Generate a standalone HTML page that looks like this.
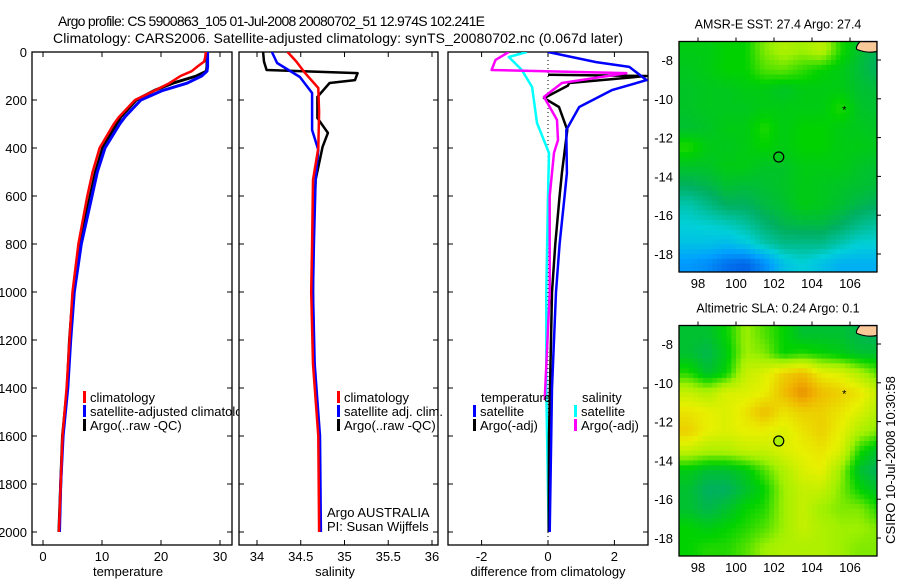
<!DOCTYPE html>
<html><head><meta charset="utf-8"><style>
body{margin:0;background:#fff}
svg{display:block;font-family:"Liberation Sans",sans-serif}
</style></head><body>
<svg id="c" width="900" height="580" viewBox="0 0 900 580">
<text x="58" y="26" font-size="14" textLength="427" lengthAdjust="spacing">Argo profile: CS 5900863_105 01-Jul-2008 20080702_51 12.974S 102.241E</text>
<text x="53" y="43" font-size="14" textLength="570" lengthAdjust="spacing">Climatology: CARS2006. Satellite-adjusted climatology: synTS_20080702.nc (0.067d later)</text>
<g id="g"></g>
</svg>
<script>
// ---- temperature panel data ----
const tDepth=[0,20,40,60,80,100,130,160,200,270,300,400,500,600,800,1000,1200,1400,1600,1800,2000];
const tClim=[27.6,27.5,27.3,26.2,25.2,23.3,21.4,19.0,15.6,12.9,12.0,9.6,8.4,7.5,6.0,5.0,4.5,4.0,3.3,3.0,2.7];
const tArgo=[27.8,27.8,27.8,27.8,27.7,26.0,22.0,18.9,15.8,13.2,12.5,10.1,8.9,8.0,6.3,5.1,4.5,4.1,3.3,3.0,2.7];
const tSat=[27.9,27.9,27.9,27.9,27.8,26.9,24.4,20.3,16.6,13.9,13.0,10.5,9.2,8.3,6.5,5.3,4.7,4.2,3.4,3.0,2.8];
// ---- salinity panel data ----
const sClimD=[0,40,88,150,250,400,533,800,1000,1300,1600,2000];
const sClim=[34.35,34.45,34.55,34.70,34.71,34.70,34.64,34.63,34.62,34.64,34.70,34.71];
const sArgoD=[0,40,75,88,117,129,187,275,337,395,533,800,1000,1300,1600,2000];
const sArgo=[34.07,34.08,34.11,35.15,35.12,34.83,34.69,34.69,34.81,34.75,34.67,34.64,34.64,34.65,34.71,34.72];
const sSatD=[0,46,104,171,325,408,533,800,1000,1300,1600,2000];
const sSat=[34.17,34.23,34.49,34.63,34.63,34.70,34.67,34.65,34.64,34.66,34.72,34.73];
// ---- difference panel data ----
const dTSatD=[0,42,62,117,158,229,325,504,600,800,1000,1400,2000];
const dTSat=[0,1.45,2.45,2.97,1.94,0.94,0.55,0.57,0.5,0.35,0.24,0.12,0.05];
const dTArgoD=[95,100,129,140,192,229,325,504,600,800,1000,1600,2000];
const dTArgo=[0,2.97,0.64,0.6,-0.12,0.33,0.58,0.42,0.35,0.22,0.12,0.03,0.02];
const dSArgoD=[0,33,75,88,129,187,283,367,420,600,1000,1450];
const dSArgo=[-1.18,-1.58,-1.7,2.36,0.42,-0.12,0.27,0.3,0.18,0.05,0.05,-0.1];
const dSSatD=[0,21,75,146,296,421,600,1000,1400,2000];
const dSSat=[-0.64,-1.18,-0.79,-0.48,-0.33,0.03,0.0,-0.05,-0.05,0.02];
// ---- ticks ----
const depthTicks=[0,200,400,600,800,1000,1200,1400,1600,1800,2000];
const tTicks=[0,10,20,30];
const sTicks=[34,34.5,35,35.5,36];
const dTicks=[-2,0,2];
const latTicks=[-8,-10,-12,-14,-16,-18];
const lonTicks=[98,100,102,104,106];
// ---- map grids (normalised colour value 0..1), rows lat -7.5..-18.5, cols lon 97.5..107.5 ----
const sstGrid=[
[0.58,0.58,0.6,0.6,0.68,0.72,0.7,0.74,0.62,0.55,0.5],
[0.57,0.58,0.6,0.6,0.65,0.66,0.63,0.6,0.58,0.54,0.5],
[0.56,0.57,0.57,0.58,0.58,0.56,0.58,0.58,0.58,0.55,0.54],
[0.56,0.57,0.57,0.57,0.58,0.58,0.58,0.58,0.62,0.56,0.55],
[0.55,0.56,0.58,0.58,0.62,0.58,0.6,0.6,0.58,0.57,0.56],
[0.62,0.58,0.57,0.58,0.6,0.58,0.6,0.6,0.58,0.58,0.57],
[0.56,0.56,0.58,0.58,0.56,0.56,0.58,0.58,0.58,0.56,0.55],
[0.5,0.52,0.55,0.54,0.55,0.56,0.58,0.57,0.56,0.55,0.54],
[0.4,0.45,0.5,0.5,0.53,0.55,0.58,0.57,0.55,0.52,0.5],
[0.35,0.36,0.38,0.42,0.48,0.52,0.53,0.53,0.5,0.45,0.42],
[0.3,0.3,0.28,0.32,0.4,0.45,0.45,0.45,0.4,0.35,0.35],
[0.18,0.15,0.08,0.05,0.15,0.3,0.35,0.3,0.25,0.25,0.25]];
const slaGrid=[
[0.55,0.55,0.6,0.7,0.65,0.6,0.55,0.55,0.55,0.52,0.5],
[0.55,0.52,0.58,0.7,0.68,0.6,0.62,0.6,0.58,0.55,0.55],
[0.62,0.55,0.6,0.75,0.78,0.85,0.88,0.8,0.78,0.72,0.65],
[0.75,0.72,0.78,0.78,0.8,0.88,0.95,0.88,0.85,0.82,0.75],
[0.82,0.8,0.78,0.82,0.88,0.82,0.85,0.85,0.82,0.78,0.72],
[0.85,0.8,0.78,0.8,0.8,0.78,0.82,0.85,0.8,0.72,0.68],
[0.75,0.72,0.72,0.75,0.75,0.78,0.8,0.82,0.78,0.62,0.55],
[0.58,0.55,0.55,0.58,0.65,0.72,0.78,0.8,0.7,0.55,0.5],
[0.55,0.5,0.5,0.55,0.6,0.7,0.75,0.75,0.68,0.6,0.55],
[0.55,0.52,0.55,0.6,0.62,0.7,0.75,0.7,0.68,0.68,0.62],
[0.6,0.58,0.6,0.62,0.65,0.7,0.75,0.72,0.7,0.7,0.68],
[0.6,0.62,0.62,0.65,0.7,0.72,0.72,0.72,0.7,0.68,0.68]];
const gridLon0=97.5, gridLat0=-7.5;

const NS="http://www.w3.org/2000/svg";
const G=document.getElementById('g');
function mk(tag,attrs,parent){const e=document.createElementNS(NS,tag);for(const k in attrs)e.setAttribute(k,attrs[k]);(parent||G).appendChild(e);return e;}
function txt(x,y,s,anchor,size,parent){const e=mk('text',{x:x,y:y,'text-anchor':anchor||'middle','font-size':size||13},parent);e.textContent=s;return e;}

const Y0=52, YS=0.24;
const yD=d=>Y0+d*YS;
const panels=[
 {name:'temperature',x0:32,x1:232,fx:v=>43+(v-0)*5.9,ticks:tTicks,label:'temperature',lx:128},
 {name:'salinity',x0:239,x1:438,fx:v=>257+(v-34)*87.5,ticks:sTicks,label:'salinity',lx:335},
 {name:'difference',x0:448,x1:648,fx:v=>548+v*33.2,ticks:dTicks,label:'difference from climatology',lx:548}
];
const TOP=52,BOT=545;
panels.forEach((p,i)=>{
  const g=mk('g',{});
  
  
  const r=mk('rect',{x:p.x0,y:TOP,width:p.x1-p.x0,height:BOT-TOP,fill:'none',stroke:'#000','stroke-width':1.3},g);
  
  
  depthTicks.forEach(d=>{const y=yD(d);
    mk('line',{x1:p.x0,x2:p.x0+5,y1:y,y2:y,stroke:'#000'},g);
    mk('line',{x1:p.x1,x2:p.x1-5,y1:y,y2:y,stroke:'#000'},g);
    if(i===0){const t=txt(27,y+5,String(d),'end',13,g);
      
      }
  });
  p.ticks.forEach(v=>{const x=p.fx(v);
    mk('line',{x1:x,x2:x,y1:BOT,y2:BOT-5,stroke:'#000'},g);
    mk('line',{x1:x,x2:x,y1:TOP,y2:TOP+5,stroke:'#000'},g);
    const t=txt(x,561,String(v),'middle',13,g);
    
    
  });
  const l=txt(p.lx,576,p.label,'middle',13,g);
  
  
});
const clip=mk('clipPath',{id:'pc'});
panels.forEach(p=>mk('rect',{x:p.x0,y:TOP,width:p.x1-p.x0,height:BOT-TOP},clip));
const lc=mk('clipPath',{id:'lc'});
mk('rect',{x:0,y:0,width:239,height:580},lc);
function line(p,depths,vals,color,w,name){
  const pts=depths.map((d,k)=>p.fx(vals[k]).toFixed(1)+','+yD(d).toFixed(1)).join(' ');
  const e=mk('polyline',{points:pts,fill:'none',stroke:color,'stroke-width':w,'clip-path':'url(#pc)','stroke-linejoin':'round'});
  
  
}
const P=panels;
const z=mk('line',{x1:P[2].fx(0),x2:P[2].fx(0),y1:TOP,y2:BOT,stroke:'#000','stroke-dasharray':'1,3'});


line(P[0],tDepth,tArgo,'#000',3,'temp-argo-line');
line(P[0],tDepth,tSat,'#0000ff',3,'temp-satellite-line');
line(P[0],tDepth,tClim,'#ff0000',2.5,'temp-climatology-line');
line(P[1],sArgoD,sArgo,'#000',2.5,'sal-argo-line');
line(P[1],sSatD,sSat,'#0000ff',2.5,'sal-satellite-line');
line(P[1],sClimD,sClim,'#ff0000',2.5,'sal-climatology-line');
line(P[2],dSSatD,dSSat,'#00ffff',2.5,'diff-sal-satellite-line');
line(P[2],dTArgoD,dTArgo,'#000',2.5,'diff-temp-argo-line');
line(P[2],dSArgoD,dSArgo,'#ff00ff',2.5,'diff-sal-argo-line');
line(P[2],dTSatD,dTSat,'#0000ff',2.5,'diff-temp-satellite-line');
function leg(x,y,color,label,name,clipId){
  const g=mk('g',{});
  
  
  if(clipId)g.setAttribute('clip-path','url(#'+clipId+')');
  mk('rect',{x:x,y:y-11,width:3,height:12,fill:color},g);
  txt(x+7,y,label,'start',13,g);
}
leg(83,402,'#ff0000','climatology','legend-climatology','lc');
leg(83,416,'#0000ff','satellite-adjusted climatology','legend-satellite-adjusted','lc');
leg(83,430,'#000','Argo(..raw -QC)','legend-argo','lc');
leg(337,402,'#ff0000','climatology','legend-sal-climatology');
leg(337,416,'#0000ff','satellite adj. clim.','legend-sal-satellite');
leg(337,430,'#000','Argo(..raw -QC)','legend-sal-argo');
txt(327,517,'Argo AUSTRALIA','start',13);
txt(327,531,'PI: Susan Wijffels','start',13);
txt(481,402,'temperature','start',13);
txt(582,402,'salinity','start',13);
leg(473,416,'#0000ff','satellite','legend-diff-temp-satellite');
leg(473,430,'#000','Argo(-adj)','legend-diff-temp-argo');
leg(574,416,'#00ffff','satellite','legend-diff-sal-satellite');
leg(574,430,'#ff00ff','Argo(-adj)','legend-diff-sal-argo');
const cmap=[[0,[0,80,224]],[0.2,[0,160,255]],[0.35,[0,208,216]],[0.5,[0,176,96]],[0.6,[0,210,0]],[0.7,[160,240,0]],[0.8,[232,240,0]],[0.9,[240,176,0]],[1,[224,112,0]]];
function col(v){for(let k=1;k<cmap.length;k++){if(v<=cmap[k][0]){const a=cmap[k-1],b=cmap[k],t=(v-a[0])/(b[0]-a[0]);
  return 'rgb('+a[1].map((c,m)=>Math.round(c+(b[1][m]-c)*t)).join(',')+')';}}return 'rgb(224,112,0)';}
function sample(grid,fi,fj){
  const nj=grid.length,ni=grid[0].length;
  fi=Math.max(0,Math.min(ni-1,fi));fj=Math.max(0,Math.min(nj-1,fj));
  const i0=Math.floor(fi),j0=Math.floor(fj),i1=Math.min(ni-1,i0+1),j1=Math.min(nj-1,j0+1),a=fi-i0,b=fj-j0;
  return (grid[j0][i0]*(1-a)+grid[j0][i1]*a)*(1-b)+(grid[j1][i0]*(1-a)+grid[j1][i1]*a)*b;
}
function map(yLat8,title,grid,name,circleFill){
  const X0=679,X1=877,top=yLat8-18.5,bot=yLat8+212;
  const fx=lon=>698+(lon-98)*19, fy=lat=>yLat8+(-8-lat)*19.4;
  const g=mk('g',{});
  
  
  const cid=name+'-clip';
  const cp=mk('clipPath',{id:cid},g);mk('rect',{x:X0,y:top,width:X1-X0,height:bot-top},cp);
  const cells=mk('g',{'clip-path':'url(#'+cid+')'},g);
  const step=0.25;
  for(let lat=-7; lat>-19.01; lat-=step){
    for(let lon=97; lon<107.5; lon+=step){
      const v=sample(grid,(lon+step/2)-gridLon0,gridLat0-(lat-step/2));
      const r=mk('rect',{x:fx(lon).toFixed(1),y:fy(lat).toFixed(1),width:(19*step+0.6).toFixed(2),height:(19.4*step+0.6).toFixed(2),fill:col(v)},cells);
      
      
    }
  }
  mk('path',{d:`M${X1} ${top} L${X1-17} ${top} Q${X1-22} ${top+6} ${X1-20} ${top+8} Q${X1-10} ${top+12} ${X1} ${top+10} Z`,fill:'#f8c898',stroke:'#000','stroke-width':1.2},cells);
  mk('rect',{x:X0,y:top,width:X1-X0,height:bot-top,fill:'none',stroke:'#000','stroke-width':1.3},g);
  latTicks.forEach(l=>{const y=fy(l);mk('line',{x1:X1,x2:X1+4,y1:y,y2:y,stroke:'#000'},g);
    const t=txt(673,y+5,String(l),'end',13,g);});
  lonTicks.forEach(l=>{const x=fx(l);mk('line',{x1:x,x2:x,y1:top,y2:top-4,stroke:'#000'},g);
    const t=txt(x,bot+16,String(l),'middle',13,g);});
  const tt=txt(778,top-13,title,'middle',12.5,g);
  
  const c=mk('circle',{cx:fx(102.25),cy:fy(-13),r:5,fill:circleFill,stroke:'#000','stroke-width':1.2},g);
  
  mk('text',{x:fx(105.7),y:fy(-10.5)+5,'font-size':11,'text-anchor':'middle'},g).textContent='*';
}
map(60,'AMSR-E SST: 27.4  Argo: 27.4',sstGrid,'sst-map','none');
map(344,'Altimetric SLA: 0.24  Argo: 0.1',slaGrid,'sla-map','#a8f000');
const cs=txt(0,0,'CSIRO 10-Jul-2008 10:30:58','middle',13);
cs.setAttribute('transform','translate(895,460) rotate(-90)');


</script>
</body></html>
